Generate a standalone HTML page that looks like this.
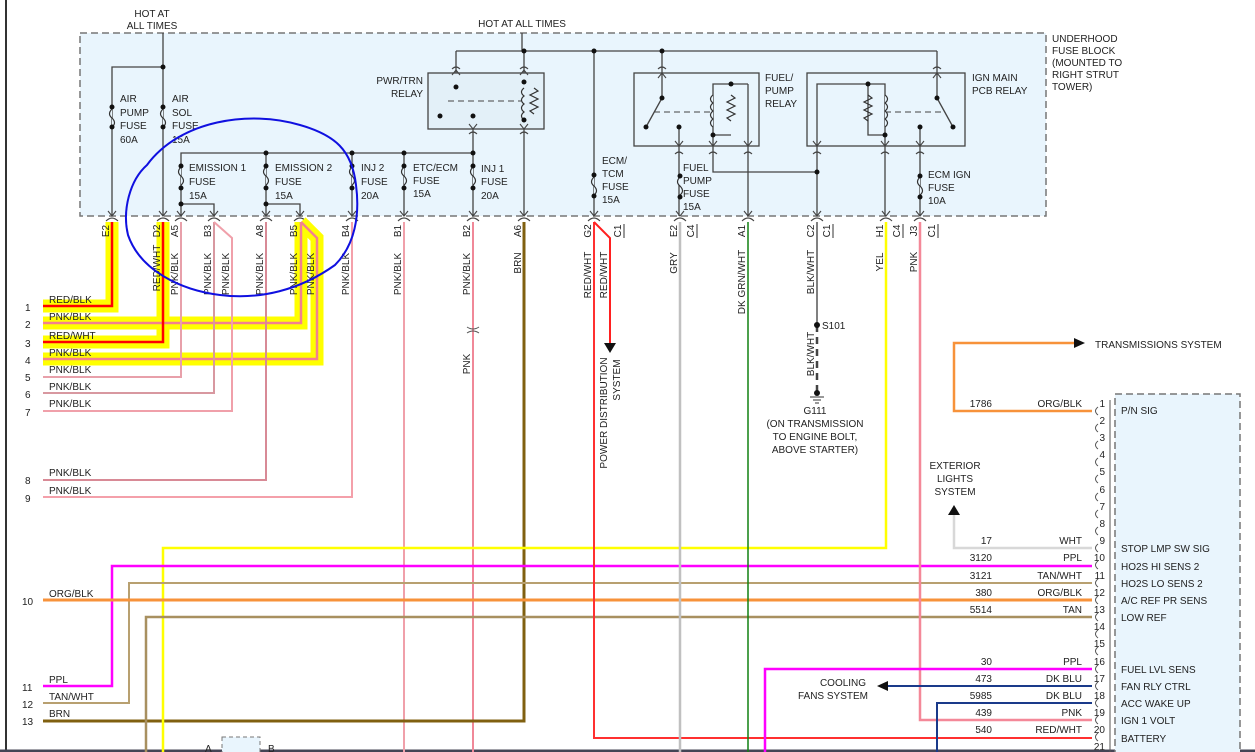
<!DOCTYPE html>
<html><head><meta charset="utf-8"><style>
html,body{margin:0;padding:0;background:#fff;}
svg{display:block;font-family:"Liberation Sans",Arial,sans-serif;font-size:10px;}
</style></head><body>
<svg width="1255" height="752" viewBox="0 0 1255 752" xmlns="http://www.w3.org/2000/svg">
<rect width="1255" height="752" fill="#fff"/>
<line x1="6" y1="0" x2="6" y2="752" stroke="#333" stroke-width="2"/>
<line x1="0" y1="751" x2="1255" y2="751" stroke="#445" stroke-width="3"/>

<!-- fuse block -->
<rect x="80" y="33" width="966" height="183" fill="#e9f5fd" stroke="#777" stroke-width="1.5" stroke-dasharray="7,4"/>
<g fill="#222">
<text x="152" y="17" text-anchor="middle">HOT AT</text>
<text x="152" y="29" text-anchor="middle">ALL TIMES</text>
<text x="522" y="27" text-anchor="middle">HOT AT ALL TIMES</text>
<text x="1052" y="42">UNDERHOOD</text><text x="1052" y="54">FUSE BLOCK</text><text x="1052" y="66">(MOUNTED TO</text><text x="1052" y="78">RIGHT STRUT</text><text x="1052" y="90">TOWER)</text>
<text x="120" y="102">AIR</text><text x="120" y="116">PUMP</text><text x="120" y="129">FUSE</text><text x="120" y="143">60A</text>
<text x="172" y="102">AIR</text><text x="172" y="116">SOL</text><text x="172" y="129">FUSE</text><text x="172" y="143">15A</text>
<text x="189" y="171">EMISSION 1</text><text x="189" y="185">FUSE</text><text x="189" y="199">15A</text>
<text x="275" y="171">EMISSION 2</text><text x="275" y="185">FUSE</text><text x="275" y="199">15A</text>
<text x="361" y="171">INJ 2</text><text x="361" y="185">FUSE</text><text x="361" y="199">20A</text>
<text x="413" y="171">ETC/ECM</text><text x="413" y="184">FUSE</text><text x="413" y="197">15A</text>
<text x="481" y="172">INJ 1</text><text x="481" y="185">FUSE</text><text x="481" y="199">20A</text>
<text x="423" y="84" text-anchor="end">PWR/TRN</text><text x="423" y="97" text-anchor="end">RELAY</text>
<text x="765" y="81">FUEL/</text><text x="765" y="94">PUMP</text><text x="765" y="107">RELAY</text>
<text x="972" y="81">IGN MAIN</text><text x="972" y="94">PCB RELAY</text>
<text x="602" y="164">ECM/</text><text x="602" y="177">TCM</text><text x="602" y="190">FUSE</text><text x="602" y="203">15A</text>
<text x="683" y="171">FUEL</text><text x="683" y="184">PUMP</text><text x="683" y="197">FUSE</text><text x="683" y="210">15A</text>
<text x="928" y="178">ECM IGN</text><text x="928" y="191">FUSE</text><text x="928" y="204">10A</text>
</g>

<!-- internal wiring -->
<g stroke="#444" stroke-width="1.3" fill="none">
<line x1="163" y1="33" x2="163" y2="216"/>
<polyline points="163,67 112,67 112,216"/>
<line x1="456" y1="51" x2="937" y2="51"/>
<line x1="522" y1="33" x2="522" y2="51"/>
<line x1="456" y1="51" x2="456" y2="87"/>
<line x1="456" y1="87" x2="440" y2="116"/>
<line x1="524" y1="51" x2="524" y2="216"/>
<polyline points="524,82 534,82 534,120 524,120"/>
<line x1="473" y1="116" x2="473" y2="216"/>
<polyline points="181,216 181,153 473,153"/>
<line x1="266" y1="153" x2="266" y2="216"/>
<line x1="352" y1="153" x2="352" y2="216"/>
<line x1="404" y1="153" x2="404" y2="216"/>
<polyline points="181,204 214,204 214,216"/>
<polyline points="266,204 300,204 300,216"/>
<line x1="594" y1="51" x2="594" y2="216"/>
<line x1="662" y1="51" x2="662" y2="98"/>
<line x1="662" y1="98" x2="646" y2="127"/>
<line x1="679" y1="127" x2="679" y2="216"/>
<polyline points="731,84 713,84 713,135 731,135"/><line x1="731" y1="84" x2="748" y2="84"/>
<line x1="748" y1="84" x2="748" y2="216"/>
<polyline points="713,135 713,172 817,172"/>
<polyline points="817,216 817,84 868,84"/>
<polyline points="868,84 885,84 885,216"/><polyline points="868,84 868,135 885,135"/>
<line x1="937" y1="51" x2="937" y2="98"/>
<line x1="937" y1="98" x2="953" y2="127"/>
<line x1="920" y1="127" x2="920" y2="216"/>
<rect x="428" y="73" width="116" height="56" fill="#e3f0f8"/>
<rect x="634" y="73" width="125" height="73"/>
<rect x="807" y="73" width="158" height="73"/>
</g>
<g stroke="#444" stroke-width="1" stroke-dasharray="6,4">
<line x1="448" y1="101" x2="524" y2="101"/><line x1="654" y1="112" x2="713" y2="112"/><line x1="885" y1="112" x2="945" y2="112"/>
</g>
<!-- coils & resistors -->
<g stroke="#333" stroke-width="1.2" fill="#e9f5fd">
<path d="M524,88 q-5,4 0,8 q-5,4 0,8 q-5,4 0,8 q-5,4 0,8"/>
<path d="M534,88 l4,3 -8,4 8,4 -8,4 8,4 -8,4 4,3" fill="none"/>
<path d="M713,95 q-5,4 0,8 q-5,4 0,8 q-5,4 0,8 q-5,4 0,8"/>
<path d="M731,95 l4,3 -8,4 8,4 -8,4 8,4 -8,4 4,3" fill="none"/>
<path d="M885,95 q5,4 0,8 q5,4 0,8 q5,4 0,8 q5,4 0,8"/>
<path d="M868,95 l4,3 -8,4 8,4 -8,4 8,4 -8,4 4,3" fill="none"/>
<!-- fuses -->
<path d="M112,109 q-5,5 0,9 q5,5 0,9" /><path d="M163,109 q-5,5 0,9 q5,5 0,9"/>
<path d="M181,167 q-5,5 0,9 q5,5 0,9"/><path d="M266,167 q-5,5 0,9 q5,5 0,9"/>
<path d="M352,167 q-5,5 0,9 q5,5 0,9"/><path d="M404,167 q-5,5 0,9 q5,5 0,9"/>
<path d="M473,167 q-5,5 0,9 q5,5 0,9"/><path d="M594,177 q-5,5 0,9 q5,5 0,9"/>
<path d="M680,177 q-5,5 0,9 q5,5 0,9"/><path d="M920,177 q-5,5 0,9 q5,5 0,9"/>
</g>
<g fill="#111">
<circle cx="163" cy="67" r="2.5"/><circle cx="112" cy="107" r="2.5"/><circle cx="112" cy="127" r="2.5"/><circle cx="163" cy="107" r="2.5"/><circle cx="163" cy="127" r="2.5"/>
<circle cx="181" cy="166" r="2.5"/><circle cx="181" cy="188" r="2.5"/><circle cx="181" cy="204" r="2.5"/>
<circle cx="266" cy="153" r="2.5"/><circle cx="266" cy="166" r="2.5"/><circle cx="266" cy="188" r="2.5"/><circle cx="266" cy="204" r="2.5"/>
<circle cx="352" cy="153" r="2.5"/><circle cx="352" cy="166" r="2.5"/><circle cx="352" cy="188" r="2.5"/>
<circle cx="404" cy="153" r="2.5"/><circle cx="404" cy="166" r="2.5"/><circle cx="404" cy="188" r="2.5"/>
<circle cx="473" cy="153" r="2.5"/><circle cx="473" cy="166" r="2.5"/><circle cx="473" cy="188" r="2.5"/>
<circle cx="524" cy="51" r="2.5"/><circle cx="594" cy="51" r="2.5"/><circle cx="662" cy="51" r="2.5"/>
<circle cx="456" cy="87" r="2.5"/><circle cx="440" cy="116" r="2.5"/><circle cx="473" cy="116" r="2.5"/><circle cx="524" cy="82" r="2.5"/><circle cx="524" cy="120" r="2.5"/>
<circle cx="662" cy="98" r="2.5"/><circle cx="646" cy="127" r="2.5"/><circle cx="679" cy="127" r="2.5"/><circle cx="731" cy="84" r="2.5"/><circle cx="713" cy="135" r="2.5"/>
<circle cx="817" cy="172" r="2.5"/><circle cx="868" cy="84" r="2.5"/><circle cx="885" cy="135" r="2.5"/>
<circle cx="937" cy="98" r="2.5"/><circle cx="953" cy="127" r="2.5"/><circle cx="920" cy="127" r="2.5"/>
<circle cx="594" cy="175" r="2.5"/><circle cx="594" cy="196" r="2.5"/><circle cx="680" cy="176" r="2.5"/><circle cx="680" cy="197" r="2.5"/><circle cx="920" cy="176" r="2.5"/><circle cx="920" cy="197" r="2.5"/>
</g>
<!-- terminal arrows & forks -->
<g stroke="#444" stroke-width="1.1" fill="none">
<path d="M108,211 l4,5 4,-5 M106,221 q6,-6 12,0"/>
<path d="M159,211 l4,5 4,-5 M157,221 q6,-6 12,0"/>
<path d="M177,211 l4,5 4,-5 M175,221 q6,-6 12,0"/>
<path d="M210,211 l4,5 4,-5 M208,221 q6,-6 12,0"/>
<path d="M262,211 l4,5 4,-5 M260,221 q6,-6 12,0"/>
<path d="M296,211 l4,5 4,-5 M294,221 q6,-6 12,0"/>
<path d="M348,211 l4,5 4,-5 M346,221 q6,-6 12,0"/>
<path d="M400,211 l4,5 4,-5 M398,221 q6,-6 12,0"/>
<path d="M469,211 l4,5 4,-5 M467,221 q6,-6 12,0"/>
<path d="M520,211 l4,5 4,-5 M518,221 q6,-6 12,0"/>
<path d="M590,211 l4,5 4,-5 M588,221 q6,-6 12,0"/>
<path d="M676,211 l4,5 4,-5 M674,221 q6,-6 12,0"/>
<path d="M744,211 l4,5 4,-5 M742,221 q6,-6 12,0"/>
<path d="M813,211 l4,5 4,-5 M811,221 q6,-6 12,0"/>
<path d="M882,211 l4,5 4,-5 M880,221 q6,-6 12,0"/>
<path d="M916,211 l4,5 4,-5 M914,221 q6,-6 12,0"/>
<path d="M452,69 q4,-4 8,0 M452,75 l4,-5 4,5 M520,69 q4,-4 8,0 M520,75 l4,-5 4,5 M469,124 l4,5 4,-5 M469,134 q4,-4 8,0 M520,124 l4,5 4,-5 M520,134 q4,-4 8,0"/>
<path d="M658,69 q4,-4 8,0 M658,78 l4,-5 4,5 M933,69 q4,-4 8,0 M933,78 l4,-5 4,5"/>
<path d="M675,141 l4,5 4,-5 M675,154 q4,-4 8,0 M709,141 l4,5 4,-5 M709,154 q4,-4 8,0 M744,141 l4,5 4,-5 M744,154 q4,-4 8,0"/>
<path d="M813,141 l4,5 4,-5 M813,154 q4,-4 8,0 M881,141 l4,5 4,-5 M881,154 q4,-4 8,0 M916,141 l4,5 4,-5 M916,154 q4,-4 8,0"/>
</g>

<!-- yellow highlights -->
<g stroke="#ffff00" stroke-width="13" fill="none" stroke-linejoin="miter">
<polyline points="43,306 112,306 112,222"/>
<polyline points="43,323 301,323 301,222"/>
<polyline points="43,342 163,342 163,222"/>
<polyline points="43,359 317,359 317,238 301,222"/>
</g>
<!-- wires -->
<g fill="none" stroke-width="2.5">
<polyline points="43,306 112,306 112,222" stroke="#ff0000"/>
<polyline points="43,323 301,323 301,222" stroke="#f38090"/>
<polyline points="43,342 163,342 163,222" stroke="#ff0000"/>
<polyline points="43,359 317,359 317,238 301,222" stroke="#f38090"/>
<polyline points="43,377 181,377 181,222" stroke="#e8a0aa" stroke-width="2"/>
<polyline points="43,393 214,393 214,222" stroke="#d898a0" stroke-width="2"/>
<polyline points="43,411 232,411 232,238 214,222" stroke="#f0a0aa" stroke-width="2"/>
<polyline points="43,480 266,480 266,222" stroke="#d88a96" stroke-width="2"/>
<polyline points="43,497 352,497 352,222" stroke="#f4a0aa" stroke-width="2"/>
<line x1="404" y1="222" x2="404" y2="752" stroke="#f0a0aa" stroke-width="2"/>
<line x1="473" y1="222" x2="473" y2="752" stroke="#f08898" stroke-width="2"/>
<polyline points="43,721 524,721 524,222" stroke="#806010" stroke-width="3"/>
<polyline points="163,752 163,548 886,548 886,222" stroke="#ffff00" stroke-width="2.5"/>
<polyline points="43,686 112,686 112,566 1092,566" stroke="#ff00ff" stroke-width="2.5"/>
<polyline points="43,703 129,703 129,583 1092,583" stroke="#b8a070" stroke-width="2"/>
<line x1="43" y1="600" x2="1092" y2="600" stroke="#f7923a" stroke-width="3"/>
<polyline points="146,752 146,617 1092,617" stroke="#a89060" stroke-width="2.5"/>
<polyline points="594,222 594,738 1092,738" stroke="#ff3030" stroke-width="2"/>
<polyline points="594,222 610,238 610,345" stroke="#ff2020" stroke-width="2"/>
<line x1="680" y1="222" x2="680" y2="752" stroke="#c0c0c0" stroke-width="2.5"/>
<line x1="748" y1="222" x2="748" y2="752" stroke="#108010" stroke-width="1.5"/>
<line x1="817" y1="222" x2="817" y2="325" stroke="#555" stroke-width="1.5"/>
<line x1="817" y1="325" x2="817" y2="392" stroke="#444" stroke-width="2.5" stroke-dasharray="7,5"/>
<polyline points="920,222 920,720 1092,720" stroke="#f48898" stroke-width="2.5"/>
<polyline points="1092,411 954,411 954,343 1080,343" stroke="#f7923a" stroke-width="2.5"/>
<polyline points="1092,548 954,548 954,512" stroke="#d8d8d8" stroke-width="2.5"/>
<polyline points="765,752 765,669 1092,669" stroke="#ff00ff" stroke-width="2.5"/>
<polyline points="1092,686 885,686" stroke="#1a3a8a" stroke-width="2"/>
<polyline points="937,752 937,703 1092,703" stroke="#1a3a8a" stroke-width="2"/>
</g>
<!-- B2 inline connector -->
<g stroke="#555" fill="none" stroke-width="1"><path d="M467,327 q6,4 12,0 M467,333 q6,-4 12,0"/></g>
<!-- arrowheads -->
<g fill="#111">
<polygon points="604,343 616,343 610,353"/>
<polygon points="1074,338 1085,343 1074,348"/>
<polygon points="948,515 954,505 960,515"/>
<polygon points="888,681 877,686 888,691"/>
<circle cx="817" cy="325" r="3"/><circle cx="817" cy="393" r="3"/>
</g>
<g stroke="#333" stroke-width="1"><line x1="810" y1="397" x2="824" y2="397"/><line x1="813" y1="400" x2="821" y2="400"/><line x1="815" y1="403" x2="819" y2="403"/></g>

<!-- right connector -->
<rect x="1115" y="394" width="125" height="370" fill="#e9f5fd" stroke="#777" stroke-width="1.5" stroke-dasharray="7,4"/>
<g fill="#222">
<text x="1121" y="414">P/N SIG</text><text x="1121" y="552">STOP LMP SW SIG</text><text x="1121" y="570">HO2S HI SENS 2</text><text x="1121" y="587">HO2S LO SENS 2</text><text x="1121" y="604">A/C REF PR SENS</text><text x="1121" y="621">LOW REF</text><text x="1121" y="673">FUEL LVL SENS</text><text x="1121" y="690">FAN RLY CTRL</text><text x="1121" y="707">ACC WAKE UP</text><text x="1121" y="724">IGN 1 VOLT</text><text x="1121" y="742">BATTERY</text>
<g text-anchor="end">
<text x="1105" y="407">1</text><text x="1105" y="424">2</text><text x="1105" y="441">3</text><text x="1105" y="458">4</text><text x="1105" y="475">5</text><text x="1105" y="493">6</text><text x="1105" y="510">7</text><text x="1105" y="527">8</text><text x="1105" y="544">9</text><text x="1105" y="561">10</text><text x="1105" y="579">11</text><text x="1105" y="596">12</text><text x="1105" y="613">13</text><text x="1105" y="630">14</text><text x="1105" y="647">15</text><text x="1105" y="665">16</text><text x="1105" y="682">17</text><text x="1105" y="699">18</text><text x="1105" y="716">19</text><text x="1105" y="733">20</text><text x="1105" y="750">21</text>
<text x="992" y="407">1786</text><text x="1082" y="407">ORG/BLK</text>
<text x="992" y="544">17</text><text x="1082" y="544">WHT</text>
<text x="992" y="561">3120</text><text x="1082" y="561">PPL</text>
<text x="992" y="579">3121</text><text x="1082" y="579">TAN/WHT</text>
<text x="992" y="596">380</text><text x="1082" y="596">ORG/BLK</text>
<text x="992" y="613">5514</text><text x="1082" y="613">TAN</text>
<text x="992" y="665">30</text><text x="1082" y="665">PPL</text>
<text x="992" y="682">473</text><text x="1082" y="682">DK BLU</text>
<text x="992" y="699">5985</text><text x="1082" y="699">DK BLU</text>
<text x="992" y="716">439</text><text x="1082" y="716">PNK</text>
<text x="992" y="733">540</text><text x="1082" y="733">RED/WHT</text>
</g>
<text x="1095" y="348">TRANSMISSIONS SYSTEM</text>
<text x="955" y="469" text-anchor="middle">EXTERIOR</text><text x="955" y="482" text-anchor="middle">LIGHTS</text><text x="955" y="495" text-anchor="middle">SYSTEM</text>
<text x="843" y="686" text-anchor="middle">COOLING</text><text x="833" y="699" text-anchor="middle">FANS SYSTEM</text>
<text x="822" y="329">S101</text>
<text x="815" y="414" text-anchor="middle">G111</text><text x="815" y="427" text-anchor="middle">(ON TRANSMISSION</text><text x="815" y="440" text-anchor="middle">TO ENGINE BOLT,</text><text x="815" y="453" text-anchor="middle">ABOVE STARTER)</text>
</g>
<g stroke="#555" fill="none" stroke-width="1">
<path d="M1098,407 q-5,4 0,8 M1098,424 q-5,4 0,8 M1098,441 q-5,4 0,8 M1098,458 q-5,4 0,8 M1098,475 q-5,4 0,8 M1098,493 q-5,4 0,8 M1098,510 q-5,4 0,8 M1098,527 q-5,4 0,8 M1098,544 q-5,4 0,8 M1098,561 q-5,4 0,8 M1098,579 q-5,4 0,8 M1098,596 q-5,4 0,8 M1098,613 q-5,4 0,8 M1098,630 q-5,4 0,8 M1098,647 q-5,4 0,8 M1098,665 q-5,4 0,8 M1098,682 q-5,4 0,8 M1098,699 q-5,4 0,8 M1098,716 q-5,4 0,8 M1098,733 q-5,4 0,8"/>
<line x1="1110" y1="400" x2="1110" y2="752"/>
</g>

<!-- left row labels -->
<g fill="#222">
<text x="25" y="311">1</text><text x="25" y="328">2</text><text x="25" y="347">3</text><text x="25" y="364">4</text><text x="25" y="381">5</text><text x="25" y="398">6</text><text x="25" y="416">7</text><text x="25" y="484">8</text><text x="25" y="502">9</text><text x="22" y="605">10</text><text x="22" y="691">11</text><text x="22" y="708">12</text><text x="22" y="725">13</text>
<text x="49" y="303">RED/BLK</text><text x="49" y="320">PNK/BLK</text><text x="49" y="339">RED/WHT</text><text x="49" y="356">PNK/BLK</text><text x="49" y="373">PNK/BLK</text><text x="49" y="390">PNK/BLK</text><text x="49" y="407">PNK/BLK</text><text x="49" y="476">PNK/BLK</text><text x="49" y="494">PNK/BLK</text><text x="49" y="597">ORG/BLK</text><text x="49" y="683">PPL</text><text x="49" y="700">TAN/WHT</text><text x="49" y="717">BRN</text>
</g>
<!-- rotated connector labels -->
<g fill="#222" text-anchor="middle">
<text transform="translate(109,231) rotate(-90)">E2</text>
<text transform="translate(160,231) rotate(-90)">D2</text>
<text transform="translate(178,231) rotate(-90)">A5</text>
<text transform="translate(211,231) rotate(-90)">B3</text>
<text transform="translate(263,231) rotate(-90)">A8</text>
<text transform="translate(297,231) rotate(-90)">B5</text>
<text transform="translate(349,231) rotate(-90)">B4</text>
<text transform="translate(401,231) rotate(-90)">B1</text>
<text transform="translate(470,231) rotate(-90)">B2</text>
<text transform="translate(521,231) rotate(-90)">A6</text>
<text transform="translate(591,231) rotate(-90)">G2</text>
<text transform="translate(621,231) rotate(-90)">C1</text>
<text transform="translate(677,231) rotate(-90)">E2</text>
<text transform="translate(694,231) rotate(-90)">C4</text>
<text transform="translate(745,231) rotate(-90)">A1</text>
<text transform="translate(814,231) rotate(-90)">C2</text>
<text transform="translate(830,231) rotate(-90)">C1</text>
<text transform="translate(883,231) rotate(-90)">H1</text>
<text transform="translate(900,231) rotate(-90)">C4</text>
<text transform="translate(917,231) rotate(-90)">J3</text>
<text transform="translate(935,231) rotate(-90)">C1</text>
<text transform="translate(160,268) rotate(-90)">RED/WHT</text>
<text transform="translate(178,274) rotate(-90)">PNK/BLK</text>
<text transform="translate(211,274) rotate(-90)">PNK/BLK</text>
<text transform="translate(229,274) rotate(-90)">PNK/BLK</text>
<text transform="translate(263,274) rotate(-90)">PNK/BLK</text>
<text transform="translate(297,274) rotate(-90)">PNK/BLK</text>
<text transform="translate(314,274) rotate(-90)">PNK/BLK</text>
<text transform="translate(349,274) rotate(-90)">PNK/BLK</text>
<text transform="translate(401,274) rotate(-90)">PNK/BLK</text>
<text transform="translate(470,274) rotate(-90)">PNK/BLK</text>
<text transform="translate(470,364) rotate(-90)">PNK</text>
<text transform="translate(521,263) rotate(-90)">BRN</text>
<text transform="translate(591,275) rotate(-90)">RED/WHT</text>
<text transform="translate(607,275) rotate(-90)">RED/WHT</text>
<text transform="translate(677,263) rotate(-90)">GRY</text>
<text transform="translate(745,282) rotate(-90)">DK GRN/WHT</text>
<text transform="translate(814,272) rotate(-90)">BLK/WHT</text>
<text transform="translate(814,354) rotate(-90)">BLK/WHT</text>
<text transform="translate(883,262) rotate(-90)">YEL</text>
<text transform="translate(917,262) rotate(-90)">PNK</text>
<text transform="translate(607,413) rotate(-90)">POWER DISTRIBUTION</text>
<text transform="translate(620,380) rotate(-90)">SYSTEM</text>
</g>
<g stroke="#333" stroke-width="1"><line x1="624" y1="224" x2="624" y2="238"/><line x1="697" y1="224" x2="697" y2="238"/><line x1="833" y1="224" x2="833" y2="238"/><line x1="903" y1="224" x2="903" y2="238"/><line x1="938" y1="224" x2="938" y2="238"/></g>

<!-- bottom small component -->
<rect x="222" y="737" width="38" height="20" fill="#e9f5fd" stroke="#777" stroke-dasharray="4,3"/>
<text x="205" y="752" fill="#222">A</text><text x="268" y="752" fill="#222">B</text>

<!-- blue hand-drawn circle -->
<path d="M147,165 C180,120 250,110 300,125 C335,135 352,150 356,185 C360,215 355,245 335,265 C300,290 260,300 220,295 C180,290 140,270 128,235 C122,210 130,180 147,165 Z" fill="none" stroke="#1010e0" stroke-width="2"/>
</svg>
</body></html>
